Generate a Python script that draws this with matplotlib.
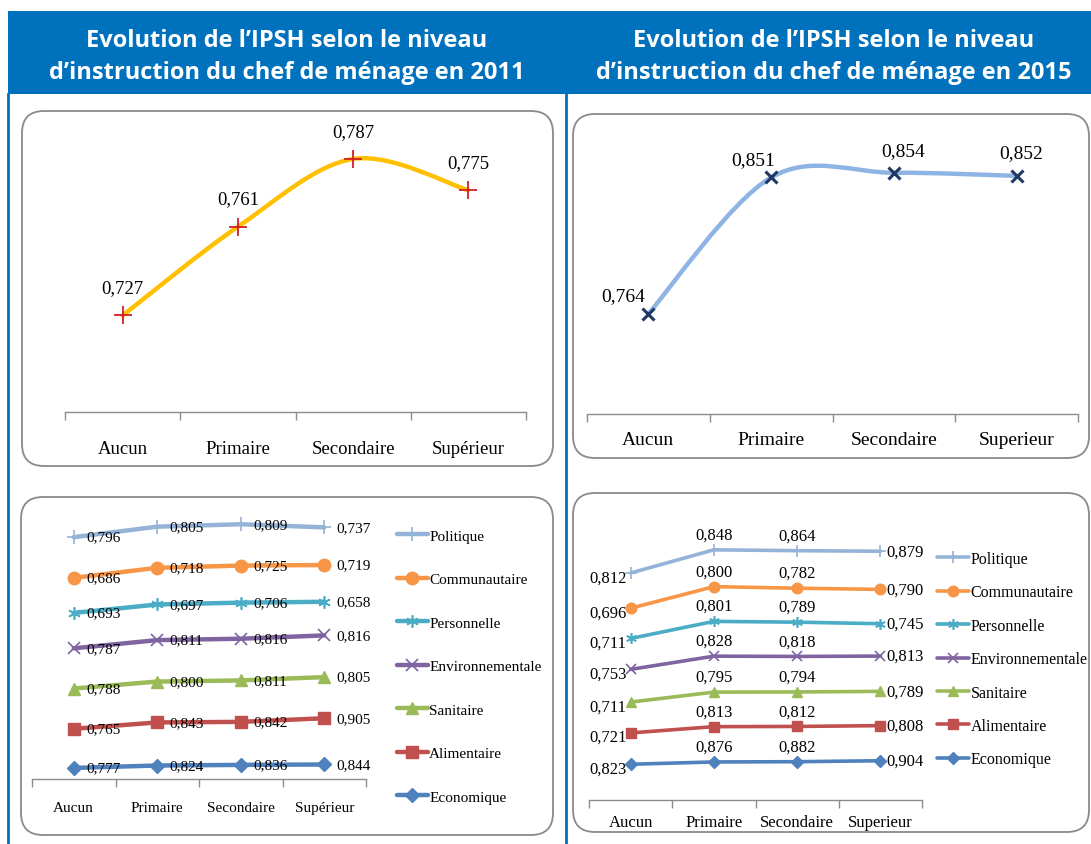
import numpy as np
import matplotlib
matplotlib.use('Agg')
import matplotlib.pyplot as plt
from matplotlib.patches import FancyBboxPatch, Rectangle, PathPatch
from matplotlib.path import Path
from matplotlib.lines import Line2D

W, H = 1091, 845

# categories
niveaux_2011 = ['Aucun', 'Primaire', 'Secondaire', 'Supérieur']
niveaux_2015 = ['Aucun', 'Primaire', 'Secondaire', 'Superieur']

# IPSH global
ipsh_2011 = [0.727, 0.761, 0.787, 0.775]
ipsh_2015 = [0.764, 0.851, 0.854, 0.852]

# dimensions (stacked from bottom to top)
dimensions = ['Economique', 'Alimentaire', 'Sanitaire', 'Environnementale',
              'Personnelle', 'Communautaire', 'Politique']

eco_2011 = [0.777, 0.824, 0.836, 0.844]
alim_2011 = [0.765, 0.843, 0.842, 0.905]
sani_2011 = [0.788, 0.800, 0.811, 0.805]
envi_2011 = [0.787, 0.811, 0.816, 0.816]
pers_2011 = [0.693, 0.697, 0.706, 0.658]
comm_2011 = [0.686, 0.718, 0.725, 0.719]
poli_2011 = [0.796, 0.805, 0.809, 0.737]

eco_2015 = [0.823, 0.876, 0.882, 0.904]
alim_2015 = [0.721, 0.813, 0.812, 0.808]
sani_2015 = [0.711, 0.795, 0.794, 0.789]
envi_2015 = [0.753, 0.828, 0.818, 0.813]
pers_2015 = [0.711, 0.801, 0.789, 0.745]
comm_2015 = [0.696, 0.800, 0.782, 0.790]
poli_2015 = [0.812, 0.848, 0.864, 0.879]

# styles per dimension
dim_colors = ['#4F81BD', '#C0504D', '#9BBB59', '#8064A2', '#4BACC6', '#F79646', '#95B3D7']
dim_markers = ['D', 's', '^', 'x', (6, 2, 0), 'o', '+']

SERIF = 'Liberation Serif'
BLUE = '#0071BC'
GRID = '#8c8c8c'


def fmt(v):
    return f'{v:.3f}'.replace('.', ',')


def px_axes(x0, y0, x1, y1):
    # pixel box (y measured from the top of the image)
    return fig.add_axes([x0 / W, 1 - y1 / H, (x1 - x0) / W, (y1 - y0) / H])


def panel(x0, y0, x1, y1):
    p = FancyBboxPatch((x0, H - y1), x1 - x0, y1 - y0,
                       boxstyle='round,pad=0,rounding_size=22',
                       transform=None, facecolor='white', edgecolor='#8a8a8a',
                       linewidth=1.3, zorder=-1)
    fig.add_artist(p)


def style_axis(ax, labels, fs, pad):
    ax.set_xlim(-0.5, 3.5)
    ax.patch.set_visible(False)
    for s in ['left', 'right', 'top']:
        ax.spines[s].set_visible(False)
    ax.spines['bottom'].set_color(GRID)
    ax.spines['bottom'].set_linewidth(1.0)
    ax.set_yticks([])
    ax.set_xticks(range(len(labels)), labels)
    ax.set_xticks(np.arange(-0.5, len(labels), 1), minor=True)
    ax.tick_params(axis='x', which='major', length=0, labelsize=fs, pad=pad)
    ax.tick_params(axis='x', which='minor', length=6, width=1.0,
                   color=GRID, direction='out')
    for t in ax.get_xticklabels():
        t.set_fontfamily(SERIF)


def smooth_path(xs, ys):
    # excel style smoothed line: cubic bezier through every point
    pts = np.column_stack([xs, ys])
    ext = np.vstack([pts[0], pts, pts[-1]])
    verts = [pts[0]]
    codes = [Path.MOVETO]
    for i in range(len(pts) - 1):
        p0, p1, p2, p3 = ext[i], ext[i + 1], ext[i + 2], ext[i + 3]
        verts += [p1 + (p2 - p0) / 6, p2 - (p3 - p1) / 6, p2]
        codes += [Path.CURVE4] * 3
    return Path(verts, codes)


fig = plt.figure(figsize=(W / 100, H / 100), dpi=100)

# header band and frame lines
fig.add_artist(Rectangle((8, H - 95), W - 8, 83, transform=None,
                         facecolor=BLUE, edgecolor='none', zorder=-2))
fig.add_artist(Line2D([8, 8], [0, H - 95], transform=None, color=BLUE, lw=2, zorder=-2))
fig.add_artist(Line2D([566, 566], [0, H - 95], transform=None, color=BLUE, lw=2, zorder=-2))

for cx, yr in [(287, '2011'), (834, '2015')]:
    fig.text(cx / W, 1 - 41 / H, "Evolution de l\u2019IPSH selon le niveau",
             ha='center', va='center', color='white', fontsize=17,
             fontweight='bold', family='Open Sans')
    fig.text(cx / W, 1 - 73 / H, "d\u2019instruction du chef de ménage en " + yr,
             ha='center', va='center', color='white', fontsize=17,
             fontweight='bold', family='Open Sans')

panel(22, 112, 553, 467)
panel(573, 115, 1089, 459)
panel(21, 498, 553, 836)
panel(573, 494, 1089, 833)

x = np.arange(4)

# ---- top left : IPSH 2011
ax1 = px_axes(65, 126, 526, 413)
style_axis(ax1, niveaux_2011, 13.5, 20)
ax1.set_ylim(0.69, 0.80)
ax1.add_patch(PathPatch(smooth_path(x, ipsh_2011), fill=False,
                        edgecolor='#FFC000', lw=3.2, capstyle='round'))
ax1.plot(x, ipsh_2011, ls='none', marker='+', ms=13, mew=1.3, color='#D0202A')
for xi, v in zip(x, ipsh_2011):
    ax1.annotate(fmt(v), (xi, v), xytext=(0, 20), textcoords='offset points',
                 ha='center', va='center', fontsize=13.5, family=SERIF)

# ---- top right : IPSH 2015
ax2 = px_axes(587, 133, 1078, 415)
style_axis(ax2, niveaux_2015, 14, 12)
ax2.set_ylim(0.70, 0.88)
ax2.add_patch(PathPatch(smooth_path(x, ipsh_2015), fill=False,
                        edgecolor='#8EB4E3', lw=3.2, capstyle='round'))
ax2.plot(x, ipsh_2015, ls='none', marker='x', ms=9, mew=2.2, color='#1F3864')
lab_dx = [-18, -13, 7, 3]
lab_dy = [13, 13, 16, 17]
for xi, v, dx, dy in zip(x, ipsh_2015, lab_dx, lab_dy):
    ax2.annotate(fmt(v), (xi, v), xytext=(dx, dy), textcoords='offset points',
                 ha='center', va='center', fontsize=14, family=SERIF)


# ---- bottom : stacked dimensions
def stacked(ax, rows, labels, ylim, lw, ms_scale, fs, mode):
    vals = np.array(rows)
    cum = np.cumsum(vals, axis=0)
    ax.set_ylim(*ylim)
    handles = []
    for k, name in enumerate(dimensions):
        m = dim_markers[k]
        ms = {'D': 7, 's': 9, '^': 8.5, 'x': 9, 'o': 9, '+': 10}.get(m, 9) * ms_scale
        mew = 1.2 if m in ('x', '+') or isinstance(m, tuple) else 1
        h, = ax.plot(x, cum[k], color=dim_colors[k], lw=lw, marker=m, ms=ms,
                     mew=mew, label=name, solid_capstyle='round')
        handles.append(h)
        for i in range(4):
            if mode == 'right' or i == 3:
                off, ha, va = (9 if mode == 'right' else 4, 0), 'left', 'center'
            elif i == 0:
                off, ha, va = (-3, -3), 'right', 'center'
            else:
                off, ha, va = (0, 11), 'center', 'center'
            ax.annotate(fmt(vals[k, i]), (x[i], cum[k, i]), xytext=off,
                        textcoords='offset points', ha=ha, va=va,
                        fontsize=fs, family=SERIF)
    return handles[::-1], labels[::-1]


ax3 = px_axes(32, 502, 366, 780)
style_axis(ax3, niveaux_2011, 11, 16)
rows_2011 = [eco_2011, alim_2011, sani_2011, envi_2011, pers_2011, comm_2011, poli_2011]
h3, l3 = stacked(ax3, rows_2011, dimensions, (0.56, 6.0), 3.2, 1.0, 11, 'right')
ax3.legend(h3, l3, loc='upper left', bbox_to_anchor=(397 / W, 1 - 530 / H),
           bbox_transform=fig.transFigure, frameon=False, handlelength=2.0,
           handletextpad=0.1, labelspacing=1.95, borderpad=0, borderaxespad=0,
           prop={'family': SERIF, 'size': 11})

ax4 = px_axes(589, 497, 922, 801)
style_axis(ax4, niveaux_2015, 12, 10)
rows_2015 = [eco_2015, alim_2015, sani_2015, envi_2015, pers_2015, comm_2015, poli_2015]
h4, l4 = stacked(ax4, rows_2015, dimensions, (0, 7), 2.6, 0.85, 12, 'mixed')
ax4.legend(h4, l4, loc='upper left', bbox_to_anchor=(937 / W, 1 - 552 / H),
           bbox_transform=fig.transFigure, frameon=False, handlelength=2.0,
           handletextpad=0.1, labelspacing=1.09, borderpad=0, borderaxespad=0,
           prop={'family': SERIF, 'size': 11.5})

fig.savefig('out.png', dpi=100)
